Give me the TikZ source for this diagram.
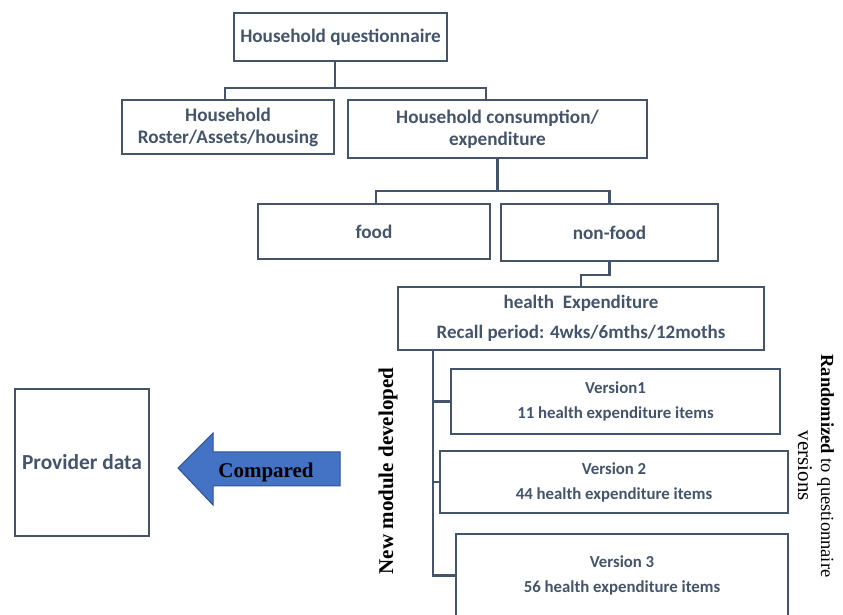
\documentclass[tikz,border=0pt]{standalone}
\usepackage{fontspec}
\setmainfont{Liberation Serif}
\newfontfamily\calfont{Carlito}
\definecolor{slate}{HTML}{44546A}
\definecolor{arrowfill}{HTML}{4472C4}
\definecolor{arrowedge}{HTML}{2F528F}
\tikzset{
  qbox/.style={draw=slate,line width=2.6bp,text=slate,align=center,inner sep=0pt,
    font=\calfont\bfseries\fontsize{19.2bp}{22bp}\selectfont},
  vbox/.style={qbox,font=\calfont\bfseries\fontsize{16.8bp}{25bp}\selectfont},
  link/.style={draw=slate,line width=2.4bp},
}
\begin{document}
\begin{tikzpicture}[line join=miter,]
\useasboundingbox (0bp,0bp) rectangle (843bp,615bp);
%%
\node (node_quest) at (340.5bp,578bp) [qbox,minimum width=213bp,minimum height=48bp] {Household questionnaire};
  \node (node_roster) at (228bp,488bp) [qbox,minimum width=212bp,minimum height=54bp] {Household\\Roster/Assets/housing};
  \node (node_cons) at (497.5bp,486bp) [qbox,minimum width=299bp,minimum height=58bp] {Household consumption/\\expenditure};
  \node (node_food) at (374bp,383.5bp) [qbox,minimum width=232bp,minimum height=55bp] {food};
  \node (node_nonfood) at (609.5bp,382.5bp) [qbox,minimum width=217bp,minimum height=57bp] {non-food};
  \node (node_health) at (581bp,296.5bp) [qbox,minimum width=366bp,minimum height=63bp,font=\calfont\bfseries\fontsize{19bp}{30bp}\selectfont] {health\ \ Expenditure\\Recall period: 4wks/6mths/12moths};
  \node (node_v1) at (615.5bp,213.5bp) [vbox,minimum width=329bp,minimum height=65bp] {Version1\\11 health expenditure items};
  \node (node_v2) at (614bp,133bp) [vbox,minimum width=348bp,minimum height=62bp] {Version 2\\44 health expenditure items};
  \node (node_v3) at (622bp,39.5bp) [vbox,minimum width=332bp,minimum height=83bp] {Version 3\\56 health expenditure items};
  \node (node_provider) at (82bp,152.5bp) [qbox,minimum width=134bp,minimum height=147bp,font=\calfont\bfseries\fontsize{21.4bp}{24bp}\selectfont] {Provider data};
%%
  \draw [link] ([xshift=-5.5bp]node_quest.south) -- ++(0bp,-26bp) coordinate (j_quest);
  \draw [link] ([xshift=-3bp]node_roster.north) |- (j_quest) -| ([xshift=-11.5bp]node_cons.north);
  \draw [link] (node_cons.south) -- ++(0bp,-32bp) coordinate (j_cons);
  \draw [link] ([xshift=2bp]node_food.north) |- (j_cons) -| (node_nonfood.north);
  \draw [link] (node_nonfood.south) -- ++(0bp,-13bp) -| (node_health.north);
  \coordinate (j_trunk) at (433bp,265bp);
  \draw [link] (j_trunk) |- (node_v3.west);
  \draw [link] (j_trunk |- node_v1.west) -- (node_v1.west);
  \draw [link] (j_trunk |- node_v2.west) -- (node_v2.west);
%%
  \draw [draw=arrowedge,fill=arrowfill,line width=1bp] (178bp,147bp) -- (213bp,182bp) -- (213bp,163bp) -- (340bp,163bp) -- (340bp,129bp) -- (213bp,129bp) -- (213bp,110bp) -- cycle;
  \node (node_compared) at (266bp,137bp) [anchor=base,inner sep=0pt,font=\bfseries\fontsize{21bp}{24bp}\selectfont] {Compared};
  \node (node_newmod) at (393bp,144bp) [anchor=base,rotate=90,inner sep=0pt,font=\bfseries\fontsize{21bp}{24bp}\selectfont] {New module developed};
  \node (node_random) at (816bp,149bp) [rotate=-90,inner sep=0pt,align=center,font=\fontsize{18.5bp}{23bp}\selectfont] {\textbf{Randomized} to questionnaire\\{\fontsize{21bp}{23bp}\selectfont versions}};
%
\end{tikzpicture}
\end{document}
